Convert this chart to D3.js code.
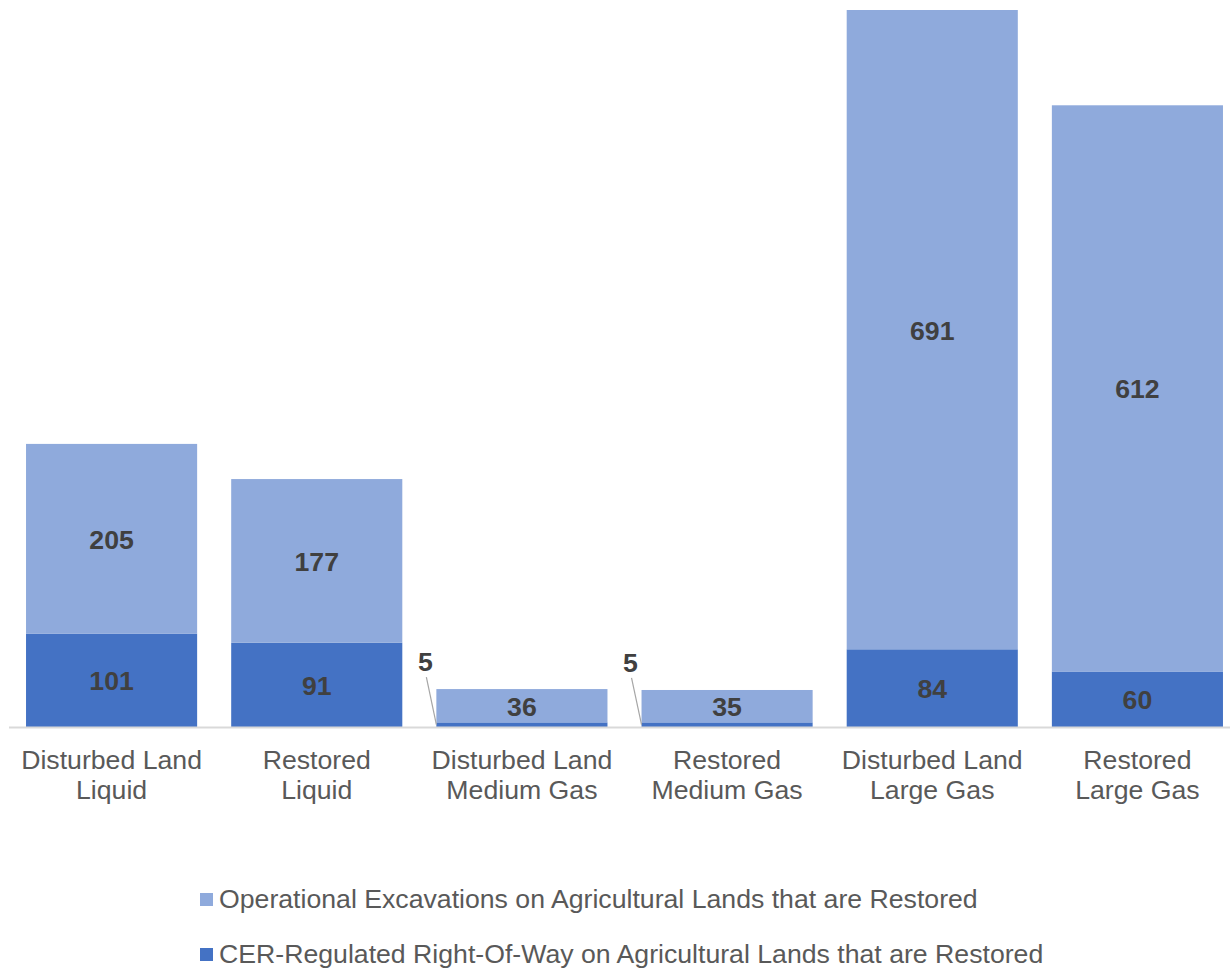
<!DOCTYPE html>
<html>
<head>
<meta charset="utf-8">
<script src="https://cdn.jsdelivr.net/npm/d3@7"></script>
<style>
  body { margin: 0; background: #fff; }
  svg { display: block; font-family: "Liberation Sans", Arial, sans-serif; }
</style>
</head>
<body>
<svg id="chart" width="1230" height="971"></svg>
<script>
// categories, two lines each
var categories = [
    ["Disturbed Land", "Liquid"],
    ["Restored", "Liquid"],
    ["Disturbed Land", "Medium Gas"],
    ["Restored", "Medium Gas"],
    ["Disturbed Land", "Large Gas"],
    ["Restored", "Large Gas"]
];
var rightOfWay = [101, 91, 5, 5, 84, 60];
var excavations = [205, 177, 36, 35, 691, 612];
var seriesNames = [
    "Operational Excavations on Agricultural Lands that are Restored",
    "CER-Regulated Right-Of-Way on Agricultural Lands that are Restored"
];

var svg = d3.select("#chart");
var baseY = 727;
var fontSize = "26.67px";
var colorLight = "#8FAADC", colorDark = "#4472C4";

let keys = categories.map(function (c) { return c.join(" "); });

let x = d3.scaleBand()
    .domain(keys)
    .range([9, 1240])
    .paddingInner(0.166)
    .paddingOuter(0.083);

let y = d3.scaleLinear()
    .domain([0, 775])
    .range([baseY, 10]);

let rows = keys.map(function (k, i) {
    return { key: k, low: rightOfWay[i], high: excavations[i] };
});

let g = svg.append("g");

// dark segment (bottom)
g.selectAll(".low")
    .data(rows).enter()
    .append("rect")
    .attr("class", "low")
    .attr("x", function (d) { return x(d.key); })
    .attr("width", x.bandwidth())
    .attr("y", function (d) { return y(d.low); })
    .attr("height", function (d) { return y(0) - y(d.low); })
    .style("fill", colorDark);

// light segment on top
g.selectAll(".high")
    .data(rows).enter()
    .append("rect")
    .attr("class", "high")
    .attr("x", function (d) { return x(d.key); })
    .attr("width", x.bandwidth())
    .attr("y", function (d) { return y(d.low + d.high); })
    .attr("height", function (d) { return y(d.low) - y(d.low + d.high); })
    .style("fill", colorLight);

// axis line
svg.append("line")
    .attr("x1", 9).attr("x2", 1230)
    .attr("y1", baseY + 0.5).attr("y2", baseY + 0.5)
    .style("stroke", "#D9D9D9")
    .style("stroke-width", 2);

// category labels
let lab = svg.append("g");
rows.forEach(function (d, i) {
    let t = lab.append("text")
        .attr("x", x(d.key) + x.bandwidth() / 2)
        .attr("text-anchor", "middle")
        .attr("font-size", fontSize)
        .style("fill", "#595959");
    categories[i].forEach(function (line, j) {
        t.append("tspan")
            .attr("x", x(d.key) + x.bandwidth() / 2)
            .attr("y", 769 + j * 30)
            .text(line);
    });
});

// value labels
let vl = svg.append("g")
    .attr("font-size", fontSize)
    .attr("font-weight", "bold")
    .style("fill", "#404040")
    .attr("text-anchor", "middle");

rows.forEach(function (d) {
    let cx = x(d.key) + x.bandwidth() / 2;
    vl.append("text")
        .attr("x", cx)
        .attr("y", (y(d.low) + y(d.low + d.high)) / 2 + 10)
        .text(d.high);
    if (y(0) - y(d.low) > 30) {
        vl.append("text")
            .attr("x", cx)
            .attr("y", (y(0) + y(d.low)) / 2 + 10)
            .text(d.low);
    } else {
        // small value: label outside with leader line
        let lx = x(d.key) - 11;
        let ly = y(d.low + d.high) - 28;
        vl.append("text")
            .attr("x", lx)
            .attr("y", ly + 10)
            .text(d.low);
        svg.append("line")
            .attr("x1", lx + 1).attr("y1", ly + 16)
            .attr("x2", x(d.key)).attr("y2", (y(0) + y(d.low)) / 2)
            .style("stroke", "#A6A6A6")
            .style("stroke-width", 1.2);
    }
});

// legend
let legend = svg.append("g");
let legendColors = [colorLight, colorDark];
seriesNames.forEach(function (name, i) {
    let ly = 899 + i * 55;
    legend.append("rect")
        .attr("x", 200).attr("y", ly - 6)
        .attr("width", 13).attr("height", 13)
        .style("fill", legendColors[i]);
    legend.append("text")
        .attr("x", 219).attr("y", ly + 9)
        .attr("font-size", fontSize)
        .style("fill", "#595959")
        .text(name);
});
</script>
</body>
</html>
